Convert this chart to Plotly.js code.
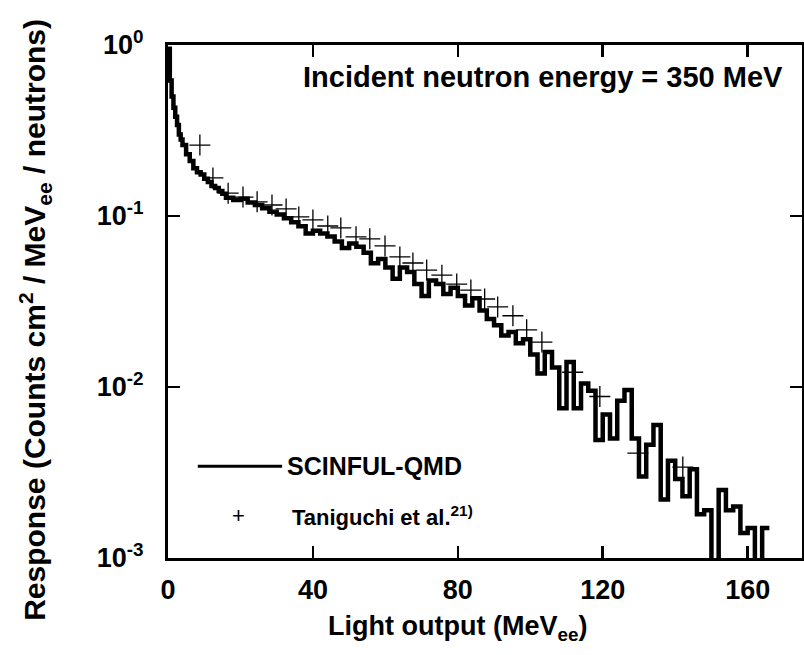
<!DOCTYPE html>
<html>
<head>
<meta charset="utf-8">
<script src="https://cdn.plot.ly/plotly-3.0.1.min.js"></script>
<style>html,body{margin:0;padding:0;background:#fff;}#plot{width:804px;height:655px;}</style>
</head>
<body>
<div id="plot"></div>
<script>
// SCINFUL-QMD histogram: bin lower edges (MeVee) and response values
var simBinLow = [0,0.5,1,1.5,2,2.5,3,3.5,4,5,6,7,8,9,10,11,12,13,14,15,16,18,20,22,24,26,28,30,32,34,36,38,40,42,44,46,48,50,52,54,56,58,60,62,64,66,68,70,72,74,76,78,80,82,84,86,88,90,92,94,96,98,100,102,104,106,108,110,112,114,116,118,120,122,124,126,128,130,132,134,136,138,140,142,144,146,148,150,152,154,156,158,160,162,164];
var simBinEnd = 166;
var simValues = [0.95,0.62,0.5,0.43,0.38,0.34,0.30,0.28,0.26,0.23,0.21,0.19,0.18,0.175,0.165,0.158,0.15,0.146,0.14,0.135,0.128,0.124,0.126,0.12,0.116,0.111,0.106,0.102,0.097,0.092,0.087,0.079,0.082,0.079,0.076,0.071,0.065,0.069,0.066,0.061,0.053,0.056,0.05,0.043,0.05,0.047,0.04,0.034,0.042,0.04,0.035,0.038,0.034,0.03,0.033,0.028,0.025,0.023,0.02,0.021,0.018,0.019,0.0155,0.012,0.016,0.013,0.0075,0.014,0.0075,0.0105,0.0095,0.0049,0.0069,0.005,0.0083,0.0096,0.005,0.003,0.0046,0.006,0.0022,0.0037,0.0029,0.0023,0.0033,0.0018,0.0019,0.0006,0.0025,0.0019,0.002,0.0014,0.0015,0.0005,0.0015];

// Taniguchi et al. experimental points
var expEnergy = [8.8,12.4,16.6,20.7,24.6,28.7,32.6,36.1,40.0,44.1,47.7,51.9,55.7,59.9,64.0,67.6,71.4,75.6,79.7,83.6,87.4,91.0,95.2,99.0,103.2,111.7,119.2,129.7,142.1];
var expResponse = [0.26,0.167,0.136,0.129,0.121,0.116,0.110,0.0987,0.0948,0.0874,0.0852,0.0755,0.0735,0.0668,0.0576,0.0531,0.0483,0.0451,0.0400,0.0369,0.0327,0.0294,0.0261,0.0216,0.0183,0.0122,0.0088,0.0041,0.0034];

var xTickVals = [0,40,80,120,160];
var xTickText = ['0','40','80','120','160'];
var yTickVals = [0.001,0.01,0.1,1];
var yTickText = ['10<sup>-3</sup>','10<sup>-2</sup>','10<sup>-1</sup>','10<sup>0</sup>'];

var legendNames = ['SCINFUL-QMD','Taniguchi et al.<sup>21)</sup>'];
var annotationText = 'Incident neutron energy = 350 MeV';
var xTitle = 'Light output (MeV<sub>ee</sub>)';
var yTitle = 'Response (Counts cm<sup>2</sup> / MeV<sub>ee</sub> / neutrons)';

var FONT = 'Arial, "Liberation Sans", sans-serif';
function bold(s){ return '<b>' + s + '</b>'; }

var stepX = simBinLow.concat([simBinEnd]);
var stepY = simValues.concat([simValues[simValues.length-1]]);

var traces = [
  {x: stepX, y: stepY, type:'scatter', mode:'lines', line:{shape:'hv', color:'#000', width:4.5}, name: legendNames[0], showlegend:false},
  {x: expEnergy, y: expResponse, type:'scatter', mode:'markers', marker:{symbol:'cross-thin', size:15, line:{width:1.3, color:'#000'}, color:'#000'}, name: legendNames[1], showlegend:false}
];

var layout = {
  width:804, height:655,
  margin:{l:168, r:2, t:45, b:97},
  paper_bgcolor:'#fff', plot_bgcolor:'#fff',
  font:{family:FONT, color:'#000'},
  xaxis:{range:[0,175], tickvals:xTickVals, ticktext:xTickText.map(bold), ticks:'inside', ticklen:12, tickwidth:2.5, tickcolor:'#000',
    showline:true, linewidth:3, linecolor:'#000', mirror:'ticks', showgrid:false, zeroline:false,
    tickfont:{size:27, family:FONT}, ticklabelstandoff:6},
  yaxis:{type:'log', range:[-3,0], tickvals:yTickVals, ticktext:yTickText.map(bold), ticks:'inside', ticklen:12, tickwidth:2.5, tickcolor:'#000',
    showline:true, linewidth:3, linecolor:'#000', mirror:'ticks', showgrid:false, zeroline:false,
    tickfont:{size:27, family:FONT}, ticklabelstandoff:16},
  shapes:[
    {type:'line', xref:'paper', yref:'paper', x0:0.047, x1:0.18, y0:0.179, y1:0.179, line:{color:'#000', width:3}}
  ],
  annotations:[
    {xref:'paper', yref:'paper', x:0.457, y:-0.136, text:bold(xTitle), showarrow:false, xanchor:'center', yanchor:'middle', font:{size:27, family:FONT}},
    {xref:'paper', yref:'paper', x:-0.21, y:0.464, text:bold(yTitle), textangle:-90, showarrow:false, xanchor:'center', yanchor:'middle', font:{size:30, family:FONT}},
    {xref:'paper', yref:'paper', x:0.591, y:0.9376, text:bold(annotationText), showarrow:false, xanchor:'center', yanchor:'middle', font:{size:29, family:FONT}},
    {xref:'paper', yref:'paper', x:0.185, y:0.179, text:bold(legendNames[0]), showarrow:false, xanchor:'left', yanchor:'middle', font:{size:25, family:FONT}},
    {xref:'paper', yref:'paper', x:0.111, y:0.082, text:'+', showarrow:false, xanchor:'center', yanchor:'middle', font:{size:22, family:FONT}},
    {xref:'paper', yref:'paper', x:0.192, y:0.082, text:bold(legendNames[1]), showarrow:false, xanchor:'left', yanchor:'middle', font:{size:22, family:FONT}}
  ],
  showlegend:false
};

Plotly.newPlot('plot', traces, layout, {displayModeBar:false, staticPlot:true});
</script>
</body>
</html>
